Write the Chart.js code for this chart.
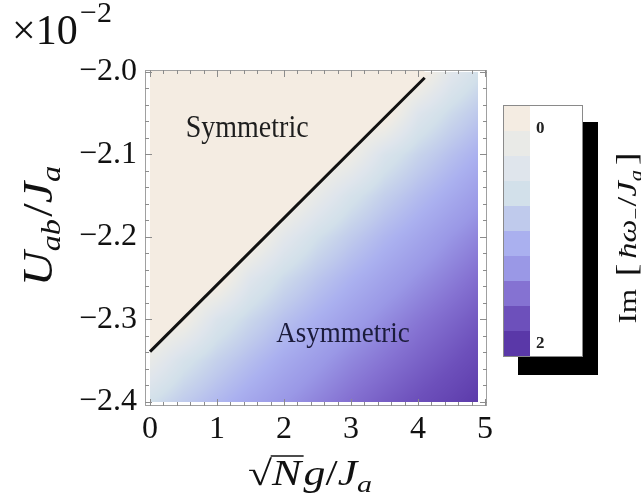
<!DOCTYPE html>
<html>
<head>
<meta charset="utf-8">
<script src="https://cdn.jsdelivr.net/npm/chart.js@4/dist/chart.umd.min.js"></script>
<style>
  html, body { margin: 0; padding: 0; background: #fff; }
</style>
</head>
<body>
<canvas id="phaseChart" width="641" height="498"></canvas>
<script>
// sqrt(N) g / Ja grid (x) and Uab / Ja grid (y, in units of 1e-2)
const xNodes = [0, 0.5, 1, 1.5, 2, 2.5, 3, 3.5, 4, 4.5, 4.9];
const yNodes = [-2.40, -2.35, -2.30, -2.25, -2.20, -2.15, -2.10, -2.05, -2.00];
// Im[hbar w_- / Ja], one row per yNodes entry
const imValues = [
  [0.70, 0.89, 1.04, 1.18, 1.30, 1.41, 1.52, 1.62, 1.71, 1.80, 1.88],
  [0.32, 0.64, 0.84, 1.00, 1.15, 1.27, 1.39, 1.49, 1.59, 1.68, 1.76],
  [0.00, 0.14, 0.57, 0.79, 0.97, 1.11, 1.24, 1.36, 1.47, 1.57, 1.65],
  [0.00, 0.00, 0.00, 0.50, 0.75, 0.93, 1.08, 1.21, 1.33, 1.44, 1.53],
  [0.00, 0.00, 0.00, 0.00, 0.43, 0.70, 0.89, 1.05, 1.18, 1.31, 1.40],
  [0.00, 0.00, 0.00, 0.00, 0.00, 0.34, 0.64, 0.85, 1.01, 1.15, 1.26],
  [0.00, 0.00, 0.00, 0.00, 0.00, 0.00, 0.20, 0.59, 0.81, 0.98, 1.10],
  [0.00, 0.00, 0.00, 0.00, 0.00, 0.00, 0.00, 0.00, 0.52, 0.76, 0.91],
  [0.00, 0.00, 0.00, 0.00, 0.00, 0.00, 0.00, 0.00, 0.00, 0.46, 0.67]
];
// symmetric / asymmetric boundary
const boundaryX = [0, 4.1];
const boundaryY = [-2.339, -2.007];

const xTicks = [0, 1, 2, 3, 4, 5];
const yTicks = [-2.4, -2.3, -2.2, -2.1, -2.0];

// legend bands, top (0) to bottom (2)
const colorbarColors = ['#f4ece2', '#e9eae7', '#dfe5ec', '#d2e0ea', '#bfcaec',
                        '#aab0ef', '#9a98e6', '#8572d2', '#6d50bb', '#5a38a8'];
const colorbarTicks = [0, 2];

const SERIF = '"Liberation Serif", "DejaVu Serif", serif';

function hexToRgb(h) {
    return [parseInt(h.slice(1, 3), 16), parseInt(h.slice(3, 5), 16), parseInt(h.slice(5, 7), 16)];
}
const bandRgb = colorbarColors.map(hexToRgb);

function colorFor(v) {
    const vmax = colorbarTicks[colorbarTicks.length - 1];
    const n = bandRgb.length;
    let t = v / (vmax / n) - 0.5;
    t = Math.max(0, Math.min(n - 1, t));
    const i = Math.min(n - 2, Math.floor(t));
    const f = t - i;
    return bandRgb[i].map((c, k) => Math.round(c + (bandRgb[i + 1][k] - c) * f));
}

function findCell(nodes, v) {
    for (let i = 0; i < nodes.length - 1; i++) {
        if (v <= nodes[i + 1]) return i;
    }
    return nodes.length - 2;
}

// draws a row of text pieces centred on (x, y); the reference figure is a bit stretched,
// so sx / sy squash or stretch the text in screen directions
function drawParts(ctx, parts, x, y, opts) {
    opts = opts || {};
    ctx.save();
    ctx.translate(x, y);
    ctx.scale(opts.sx || 1, opts.sy || 1);
    if (opts.rotate) ctx.rotate(-Math.PI / 2);
    ctx.textBaseline = 'alphabetic';
    ctx.textAlign = 'left';
    ctx.fillStyle = opts.color || '#111';
    ctx.strokeStyle = opts.color || '#111';
    let w = 0;
    parts.forEach(p => { ctx.font = p.f; w += ctx.measureText(p.t).width + (p.gap || 0); });
    let cx = -w / 2;
    parts.forEach(p => {
        ctx.font = p.f;
        const pw = ctx.measureText(p.t).width;
        ctx.fillText(p.t, cx, p.dy || 0);
        if (p.over) {
            ctx.lineWidth = 1.4;
            ctx.beginPath();
            ctx.moveTo(cx - 1, -p.over);
            ctx.lineTo(cx + pw + 2, -p.over);
            ctx.stroke();
        }
        cx += pw + (p.gap || 0);
    });
    ctx.restore();
}

const heatmapPlugin = {
    id: 'heatmap',
    beforeDatasetsDraw(chart) {
        const ctx = chart.ctx;
        const xs = chart.scales.x, ys = chart.scales.y;
        const x0 = Math.round(xs.getPixelForValue(xNodes[0]));
        const x1 = Math.round(xs.getPixelForValue(xNodes[xNodes.length - 1]));
        const y0 = Math.round(ys.getPixelForValue(yNodes[yNodes.length - 1]));
        const y1 = Math.round(ys.getPixelForValue(yNodes[0]));
        const w = x1 - x0, h = y1 - y0;
        const off = document.createElement('canvas');
        off.width = w; off.height = h;
        const octx = off.getContext('2d');
        const img = octx.createImageData(w, h);
        for (let py = 0; py < h; py++) {
            const yv = ys.getValueForPixel(y0 + py + 0.5);
            const j = findCell(yNodes, yv);
            const fy = Math.max(0, Math.min(1, (yv - yNodes[j]) / (yNodes[j + 1] - yNodes[j])));
            for (let px = 0; px < w; px++) {
                const xv = xs.getValueForPixel(x0 + px + 0.5);
                const i = findCell(xNodes, xv);
                const fx = Math.max(0, Math.min(1, (xv - xNodes[i]) / (xNodes[i + 1] - xNodes[i])));
                const a = imValues[j][i], b = imValues[j][i + 1];
                const c = imValues[j + 1][i], d = imValues[j + 1][i + 1];
                const v = (a * (1 - fx) + b * fx) * (1 - fy) + (c * (1 - fx) + d * fx) * fy;
                const rgb = colorFor(v);
                const k = (py * w + px) * 4;
                img.data[k] = rgb[0]; img.data[k + 1] = rgb[1]; img.data[k + 2] = rgb[2]; img.data[k + 3] = 255;
            }
        }
        octx.putImageData(img, 0, 0);
        ctx.drawImage(off, x0, y0);
    }
};

const it = s => 'italic ' + s + 'px ' + SERIF;
const up = s => s + 'px ' + SERIF;

const decorPlugin = {
    id: 'decor',
    afterDatasetsDraw(chart) {
        const ctx = chart.ctx;
        const xs = chart.scales.x, ys = chart.scales.y;
        // region labels
        drawParts(ctx, [{t: 'Symmetric', f: up(28)}],
            xs.getPixelForValue(1.45), ys.getPixelForValue(-2.079), {sy: 1.12, color: '#1e1e1e'});
        drawParts(ctx, [{t: 'Asymmetric', f: up(27)}],
            xs.getPixelForValue(2.88), ys.getPixelForValue(-2.327), {sy: 1.12, color: '#1c1c3c'});
    },
    afterDraw(chart) {
        const ctx = chart.ctx;
        const {left, right, top, bottom} = chart.chartArea;
        const xs = chart.scales.x, ys = chart.scales.y;
        ctx.save();
        // frame
        ctx.strokeStyle = '#a0a0a0';
        ctx.lineWidth = 1;
        ctx.strokeRect(left + 0.5, top + 0.5, right - left - 1, bottom - top - 1);
        // inward ticks on all four sides
        ctx.strokeStyle = '#8c8c8c';
        ctx.beginPath();
        for (let k = 0; k <= 25; k++) {
            const p = Math.round(xs.getPixelForValue(k * 0.2)) + 0.5;
            const len = k % 5 === 0 ? 7 : 4;
            ctx.moveTo(p, bottom); ctx.lineTo(p, bottom - len);
            ctx.moveTo(p, top); ctx.lineTo(p, top + len);
        }
        for (let k = 0; k <= 20; k++) {
            const p = Math.round(ys.getPixelForValue(-2.4 + k * 0.02)) + 0.5;
            const len = k % 5 === 0 ? 7 : 4;
            ctx.moveTo(left, p); ctx.lineTo(left + len, p);
            ctx.moveTo(right, p); ctx.lineTo(right - len, p);
        }
        ctx.stroke();
        ctx.restore();

        // exponent of the y axis
        ctx.save();
        ctx.fillStyle = '#111';
        ctx.textBaseline = 'alphabetic';
        ctx.textAlign = 'left';
        ctx.font = up(42);
        ctx.fillText('\u00d710', 12, 44);
        ctx.font = up(30);
        ctx.fillText('\u22122', 80, 22);
        ctx.restore();

        // axis titles
        drawParts(ctx, [
            {t: 'U', f: it(42)}, {t: 'ab', f: it(28), dy: 8, gap: 2},
            {t: '/', f: up(42)}, {t: 'J', f: it(42)}, {t: 'a', f: it(28), dy: 8}
        ], 52, 226, {rotate: true, sy: 1.15});

        drawParts(ctx, [
            {t: '\u221a', f: up(35)}, {t: 'N', f: it(35), gap: 2, over: 29}, {t: 'g', f: it(35)},
            {t: '/', f: up(35)}, {t: 'J', f: it(35)}, {t: 'a', f: it(24), dy: 7}
        ], 310, 485, {sx: 1.25});

        // colour legend: shadow, box, bands, labels
        ctx.save();
        const bx = 503, by = 105, bw = 80, bh = 252, sw = 26;
        ctx.fillStyle = '#000';
        ctx.fillRect(bx + bw, by + 17, 15, bh + 1);
        ctx.fillRect(bx + 15, by + bh, bw, 18);
        ctx.fillStyle = '#fff';
        ctx.fillRect(bx, by, bw, bh);
        const n = colorbarColors.length;
        const band = (bh - 2) / n;
        colorbarColors.forEach((c, i) => {
            ctx.fillStyle = c;
            ctx.fillRect(bx + 1, Math.round(by + 1 + i * band), sw, Math.ceil(band));
        });
        ctx.strokeStyle = '#8a8a8a';
        ctx.lineWidth = 1;
        ctx.strokeRect(bx + 0.5, by + 0.5, bw - 1, bh - 1);
        ctx.fillStyle = '#222';
        ctx.font = 'bold 17px ' + SERIF;
        ctx.textBaseline = 'middle';
        ctx.fillText(String(colorbarTicks[0]), bx + 33, by + 1 + band * 0.9);
        ctx.fillText(String(colorbarTicks[1]), bx + 33, by + 1 + band * (n - 0.5));
        ctx.restore();

        drawParts(ctx, [
            {t: 'Im', f: up(25), gap: 10}, {t: '[', f: up(30), gap: 4},
            {t: '\u0127\u03c9', f: it(26)}, {t: '\u2212', f: up(17), dy: 5, gap: 1},
            {t: '/', f: up(28)}, {t: 'J', f: it(28)}, {t: 'a', f: it(18), dy: 6, gap: 4},
            {t: ']', f: up(30)}
        ], 636, 238, {rotate: true, sy: 1.25});
    }
};

const ctx = document.getElementById('phaseChart');
const chart = new Chart(ctx, {
    type: 'line',
    data: {
        datasets: [{
            label: 'boundary',
            data: boundaryX.map((x, i) => ({x: x, y: boundaryY[i]})),
            borderColor: '#111',
            borderWidth: 3,
            pointRadius: 0,
            fill: 'end',
            backgroundColor: '#f4ece2',
            tension: 0
        }]
    },
    options: {
        responsive: false,
        animation: false,
        layout: { padding: { left: 0, top: 70, right: 154, bottom: 0 } },
        plugins: { legend: { display: false }, tooltip: { enabled: false } },
        scales: {
            x: {
                type: 'linear',
                min: -0.075,
                max: 5.03,
                afterBuildTicks: s => { s.ticks = xTicks.map(v => ({value: v})); },
                afterFit: s => { s.height = 92; },
                grid: { display: false, drawTicks: false },
                border: { display: false },
                ticks: {
                    autoSkip: false, maxRotation: 0, padding: 4,
                    color: '#111', font: { family: SERIF, size: 32 },
                    callback: v => String(v)
                }
            },
            y: {
                type: 'linear',
                min: -2.405,
                max: -1.9976,
                afterBuildTicks: s => { s.ticks = yTicks.map(v => ({value: v})); },
                afterFit: s => { s.width = 145; },
                grid: { display: false, drawTicks: false },
                border: { display: false },
                ticks: {
                    autoSkip: false, padding: 8,
                    color: '#111', font: { family: SERIF, size: 32 },
                    callback: v => v.toFixed(1).replace('-', '\u2212')
                }
            }
        }
    },
    plugins: [heatmapPlugin, decorPlugin]
});
</script>
</body>
</html>
